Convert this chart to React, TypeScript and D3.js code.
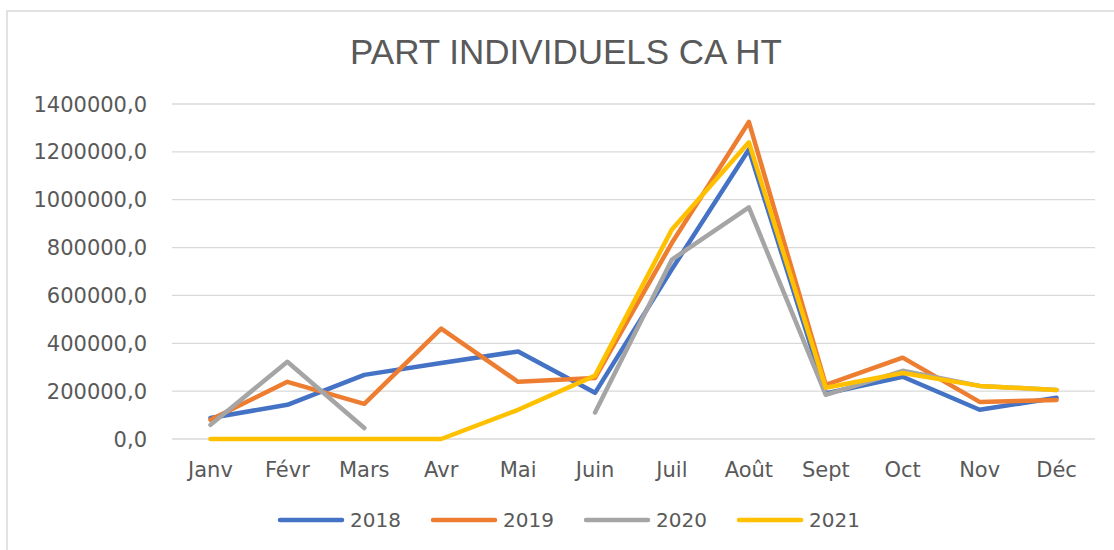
import React from 'react';
import * as d3 from 'd3';

const months = ['Janv', 'Févr', 'Mars', 'Avr', 'Mai', 'Juin', 'Juil', 'Août', 'Sept', 'Oct', 'Nov', 'Déc'];
const years = ['2018', '2019', '2020', '2021'];
const colors = ['#4472C4', '#ED7D31', '#A5A5A5', '#FFC000'];

const v2018 = [88000, 143000, 268000, 318000, 366000, 193000, 710000, 1210000, 190000, 260000, 122000, 172000];
const v2019 = [80000, 239000, 147000, 461000, 239000, 255000, 820000, 1325000, 226000, 340000, 155000, 163000];
const v2020 = [59000, 323000, 46000, null, null, 111000, 750000, 968000, 184000, 285000, 222000, 205000];
const v2021 = [0, 0, 0, 0, 122000, 265000, 876000, 1240000, 214000, 276000, 222000, 205000];

const yTicks = [0, 200000, 400000, 600000, 800000, 1000000, 1200000, 1400000];

const W = 1114;
const H = 550;
const font = '"DejaVu Sans", sans-serif';

export default function App() {
  const series = [v2018, v2019, v2020, v2021];

  const x = d3.scaleBand<string>().domain(months).range([172, 1095]).padding(0);
  const y = d3.scaleLinear().domain([0, 1400000]).range([439, 104]);
  const cx = (m: string) => (x(m) ?? 0) + x.bandwidth() / 2;

  const line = d3.line<number | null>()
    .defined(d => d != null)
    .x((_, i) => cx(months[i]))
    .y(d => y(d as number));

  const fmt = (v: number) => d3.format('.1f')(v).replace('.', ',');

  // legend layout
  const leg = d3.scaleBand<string>().domain(years).range([280, 280 + 4 * 153]);

  return (
    <svg width={W} height={H} style={{ position: 'absolute', left: 0, top: 0, background: '#fff' }}>
      <rect x={7} y={11} width={W + 20} height={H + 20} fill="#fff" stroke="#d9d9d9" strokeWidth={1.5} />
      <text x={566} y={64} textAnchor="middle" fontFamily='"Liberation Sans", sans-serif' fontSize={35} fill="#595959">
        PART INDIVIDUELS CA HT
      </text>

      {yTicks.map(t => (
        <g key={t}>
          <line x1={172} x2={1095} y1={y(t)} y2={y(t)} stroke="#d9d9d9" strokeWidth={1.3} />
          <text x={147} y={y(t)} dy="0.36em" textAnchor="end" fontFamily={font} fontSize={21} fill="#595959">
            {fmt(t)}
          </text>
        </g>
      ))}

      {months.map(m => (
        <text key={m} x={cx(m)} y={477} textAnchor="middle" fontFamily={font} fontSize={21} fill="#595959">
          {m}
        </text>
      ))}

      {series.map((s, i) => (
        <path key={years[i]} d={line(s) ?? ''} fill="none" stroke={colors[i]} strokeWidth={4.5}
          strokeLinejoin="round" strokeLinecap="round" />
      ))}

      {years.map((yr, i) => {
        const x0 = leg(yr) ?? 0;
        return (
          <g key={yr}>
            <line x1={x0} x2={x0 + 62} y1={520} y2={520} stroke={colors[i]} strokeWidth={4.5} strokeLinecap="round" />
            <text x={x0 + 70} y={520} dy="0.36em" fontFamily={font} fontSize={20} fill="#595959">{yr}</text>
          </g>
        );
      })}
    </svg>
  );
}
